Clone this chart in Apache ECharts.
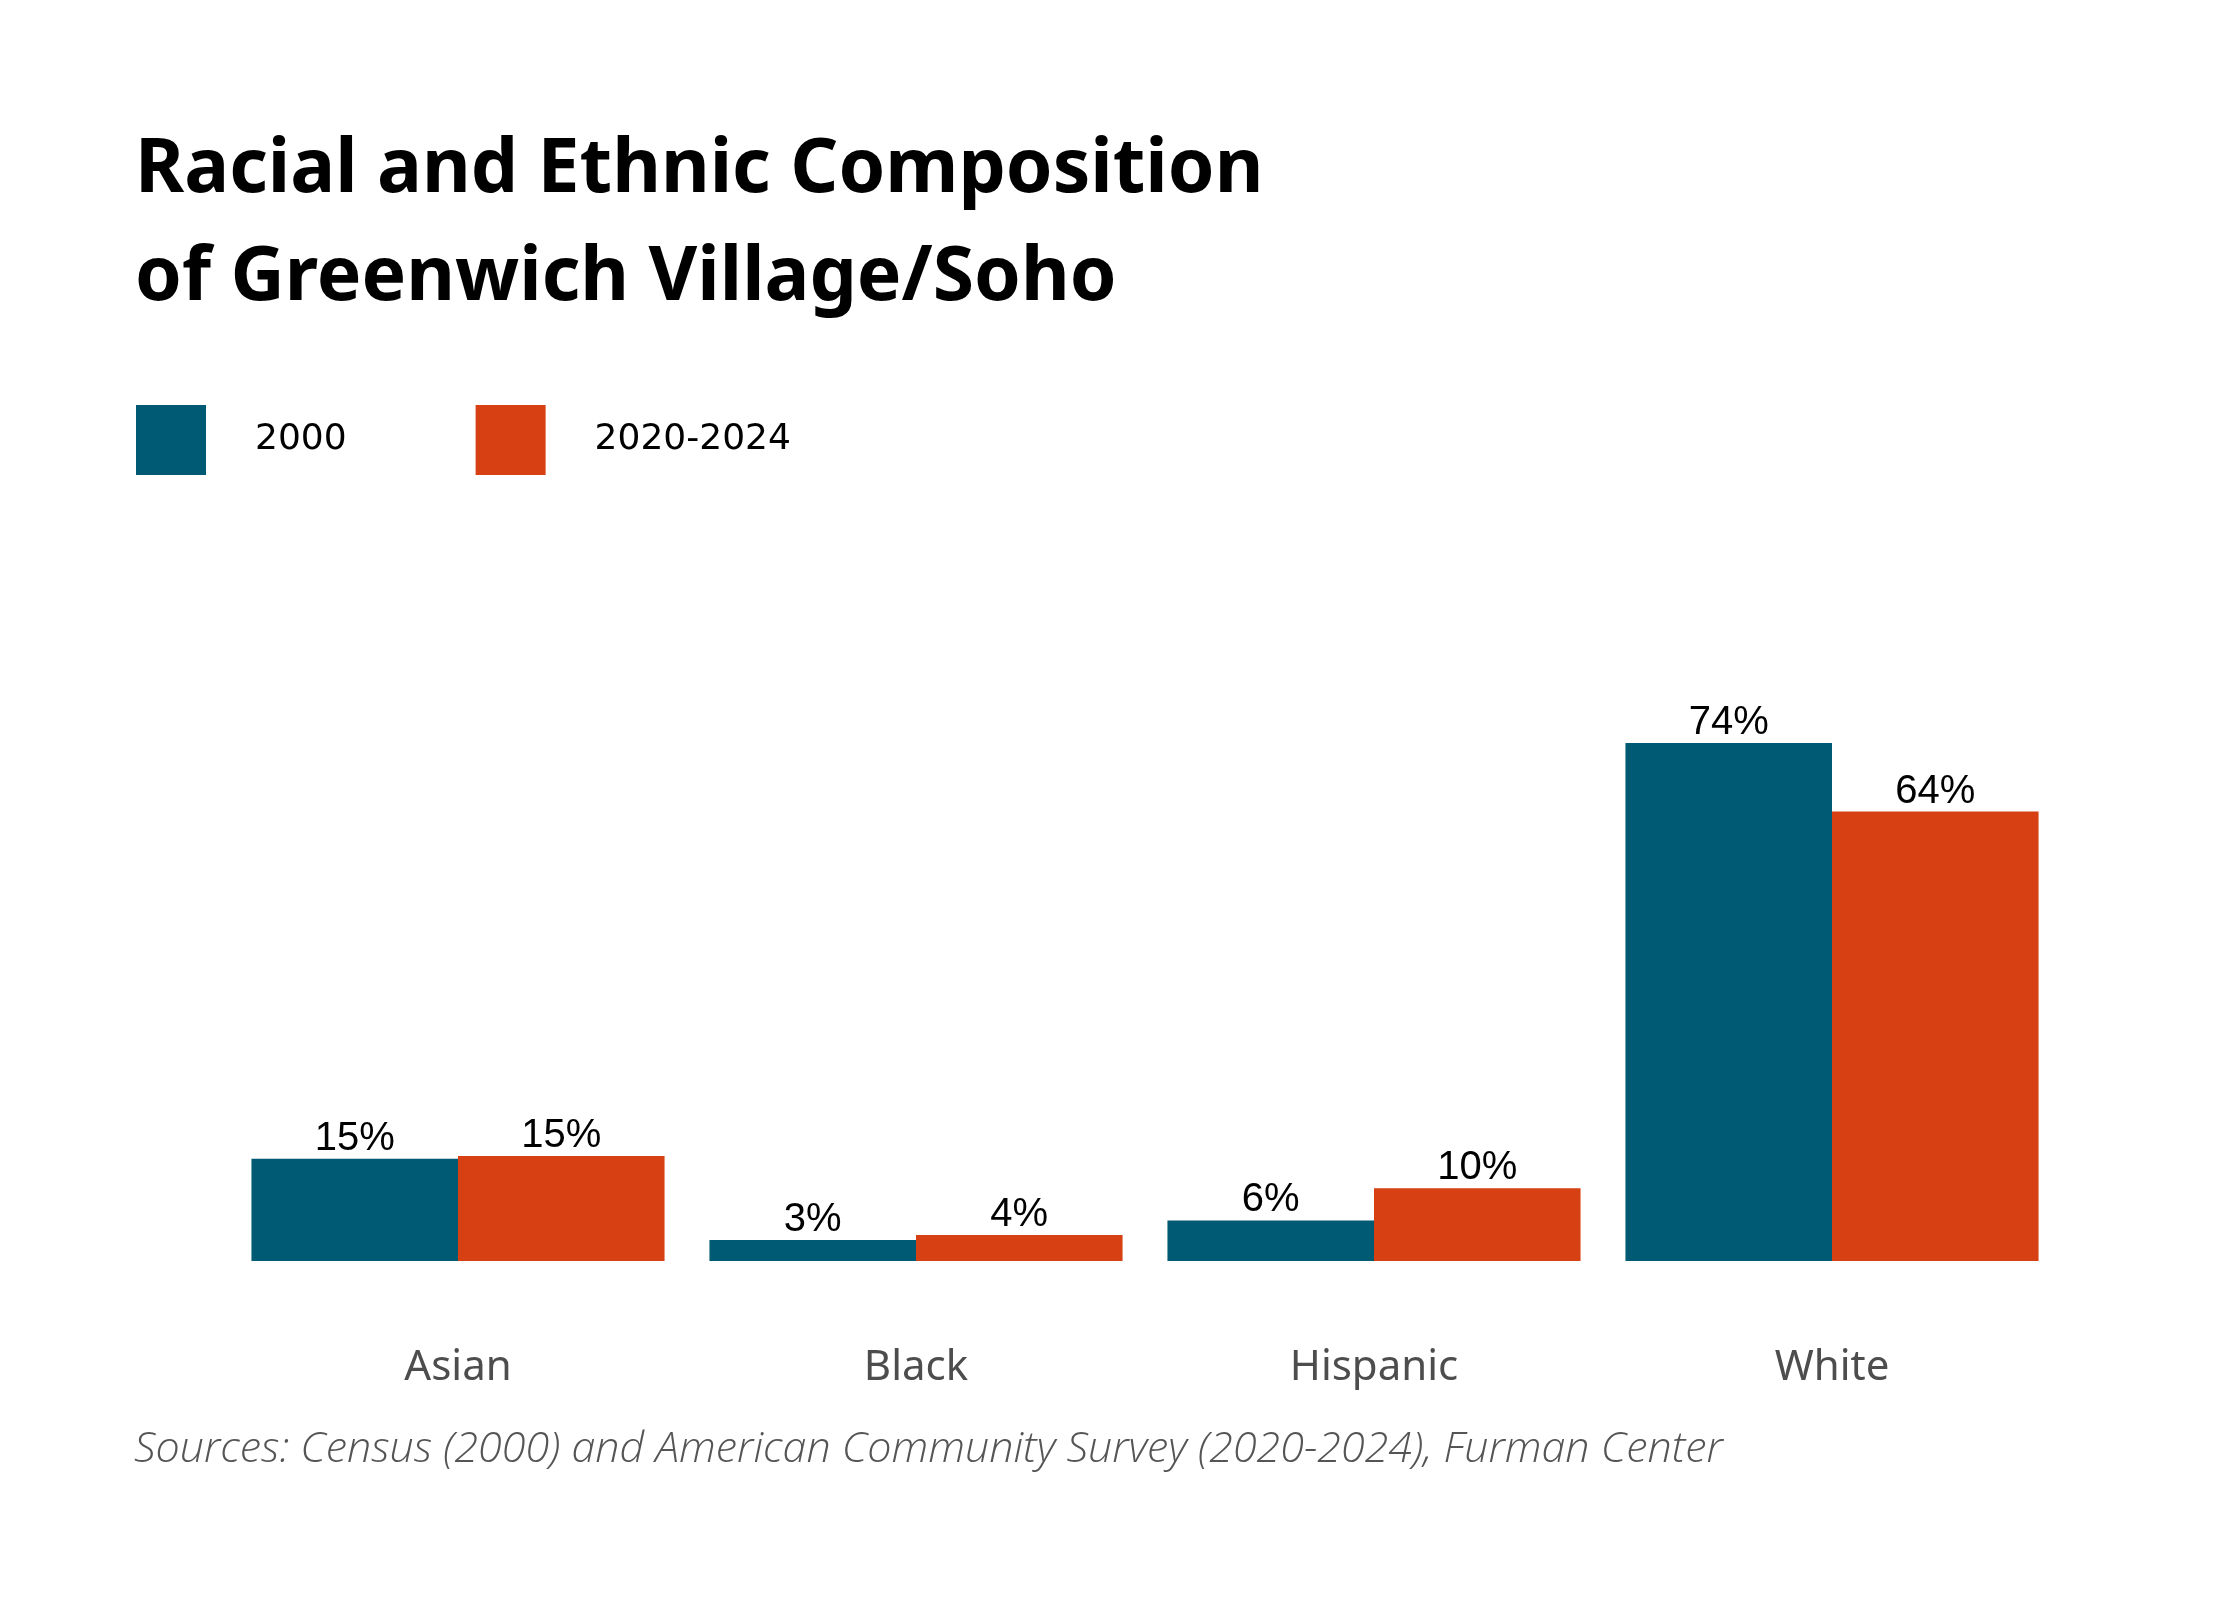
<!DOCTYPE html>
<html>
<head>
<meta charset="utf-8">
<title>Racial and Ethnic Composition of Greenwich Village/Soho</title>
<script src="https://cdn.jsdelivr.net/npm/echarts@6/dist/echarts.min.js"></script>
<style>
  html, body { margin: 0; padding: 0; background: #fff; }
  #chart { width: 2240px; height: 1600px; }
</style>
</head>
<body>
<div id="chart"></div>
<script>
// 数据
const categories = ['Asian', 'Black', 'Hispanic', 'White']
const seriesNames = ['2000', '2020-2024']
const values2000 = [14.6, 3.0, 5.8, 74.0]
const values2020 = [15.0, 3.7, 10.4, 64.2]

const BLUE = '#005a73'
const ORANGE = '#d64012'

const chart = echarts.init(document.getElementById('chart'))

// 柱子标签
const barLabel = {
  show: true,
  position: 'top',
  distance: 0,
  fontFamily: 'Liberation Sans',
  fontSize: 40,
  color: '#000',
  formatter: (p) => Math.round(p.value) + '%',
}

const option = {
  backgroundColor: '#fff',
  animation: false,
  title: {
    text: 'Racial and Ethnic Composition\nof Greenwich Village/Soho',
    left: 135,
    top: 117,
    padding: 0,
    textStyle: {
      fontFamily: 'Noto Sans',
      fontWeight: 'bold',
      fontSize: 75,
      lineHeight: 108,
      color: '#000',
    },
  },
  legend: {
    data: seriesNames,
    left: 136,
    top: 405,
    padding: 0,
    icon: 'rect',
    itemWidth: 70,
    itemHeight: 70,
    itemGap: 129,
    selectedMode: false,
    textStyle: {
      fontFamily: 'DejaVu Sans',
      fontSize: 36,
      color: '#000',
      padding: [20, 0, 0, 44],
    },
  },
  grid: {
    left: 229,
    right: 179,
    top: 561,
    bottom: 339,
    containLabel: false,
  },
  xAxis: {
    type: 'category',
    data: categories,
    axisLine: { show: false },
    axisTick: { show: false },
    axisLabel: {
      margin: 86,
      fontFamily: 'Noto Sans',
      fontSize: 42,
      color: '#4d4d4d',
    },
  },
  yAxis: {
    type: 'value',
    min: 0,
    max: 100,
    show: false,
    splitLine: { show: false },
  },
  series: [
    {
      name: seriesNames[0],
      type: 'bar',
      data: values2000,
      barGap: '0%',
      barCategoryGap: '9.8%',
      itemStyle: { color: BLUE },
      label: barLabel,
    },
    {
      name: seriesNames[1],
      type: 'bar',
      data: values2020,
      barGap: '0%',
      barCategoryGap: '9.8%',
      itemStyle: { color: ORANGE },
      label: barLabel,
    },
  ],
  graphic: [
    {
      type: 'text',
      left: 134,
      top: 1428,
      style: {
        text: 'Sources: Census (2000) and American Community Survey (2020-2024), Furman Center',
        fontFamily: 'Open Sans',
        fontStyle: 'italic',
        fontWeight: 300,
        fontSize: 43,
        fill: '#555',
      },
    },
  ],
}

chart.setOption(option)
</script>
</body>
</html>
